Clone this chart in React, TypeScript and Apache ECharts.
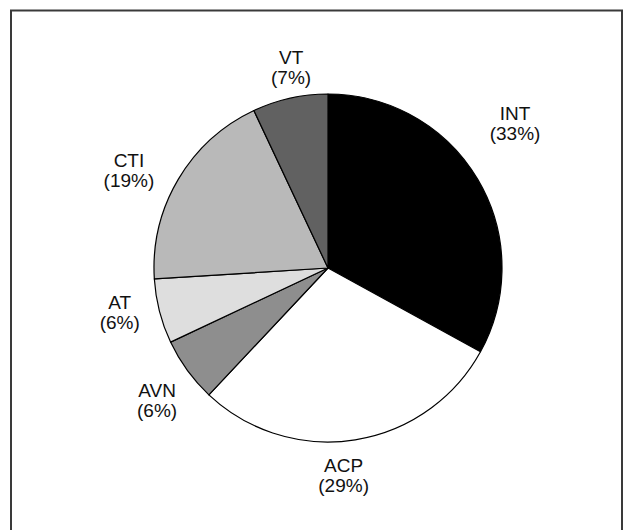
import React, { useEffect, useRef } from "react";
import * as echarts from "echarts";

const categories = ["INT", "ACP", "AVN", "AT", "CTI", "VT"];
const shares = [33, 29, 6, 6, 19, 7];
const sliceColors = ["#000000", "#ffffff", "#8e8e8e", "#dedede", "#b9b9b9", "#616161"];

// label styling: distance from centre along the slice's mid-angle, plus per-label nudges
const LABEL_DISTANCE = 215;
const labelNudges: [number, number][] = [
  [2, -35],
  [-18, -5],
  [3, 6],
  [0, -9],
  [-14, 12],
  [10, 9],
];

const CX = 328;
const CY = 268;
const R = 174;

export default function App() {
  const ref = useRef<HTMLDivElement>(null);
  useEffect(() => {
    document.body.style.margin = "0";
    const chart = echarts.init(ref.current!, undefined, { renderer: "svg" });
    const total = shares.reduce((a, b) => a + b, 0);
    const mids: number[] = [];
    let cum = 0;
    shares.forEach((v) => {
      mids.push(((cum + v / 2) / total) * Math.PI * 2);
      cum += v;
    });
    chart.setOption({
      animation: false,
      backgroundColor: "#ffffff",
      graphic: [
        {
          type: "rect",
          shape: { x: 11, y: 10.5, width: 611, height: 600 },
          style: { fill: "none", stroke: "#3a3a3a", lineWidth: 2 },
          silent: true,
        },
      ],
      series: [
        {
          type: "pie",
          center: [CX, CY],
          radius: R,
          startAngle: 90,
          clockwise: true,
          avoidLabelOverlap: false,
          silent: true,
          data: categories.map((name, i) => ({
            name,
            value: shares[i],
            itemStyle: { color: sliceColors[i] },
          })),
          itemStyle: { borderColor: "#000000", borderWidth: 1.2 },
          label: {
            show: true,
            position: "outside",
            formatter: "{b}\n({c}%)",
            color: "#111111",
            fontSize: 19,
            lineHeight: 20,
            fontFamily: "'Liberation Sans', Arial, Helvetica, sans-serif",
          },
          labelLine: { show: false },
          labelLayout: (params: any) => {
            const i = params.dataIndex;
            const a = mids[i];
            const n = labelNudges[i] || [0, 0];
            return {
              x: CX + LABEL_DISTANCE * Math.sin(a) + n[0],
              y: CY - LABEL_DISTANCE * Math.cos(a) + n[1],
              align: "center",
              verticalAlign: "middle",
            };
          },
        },
      ],
    });
    return () => chart.dispose();
  }, []);
  return (
    <div
      ref={ref}
      style={{ position: "absolute", left: 0, top: 0, width: 623, height: 530 }}
    />
  );
}
